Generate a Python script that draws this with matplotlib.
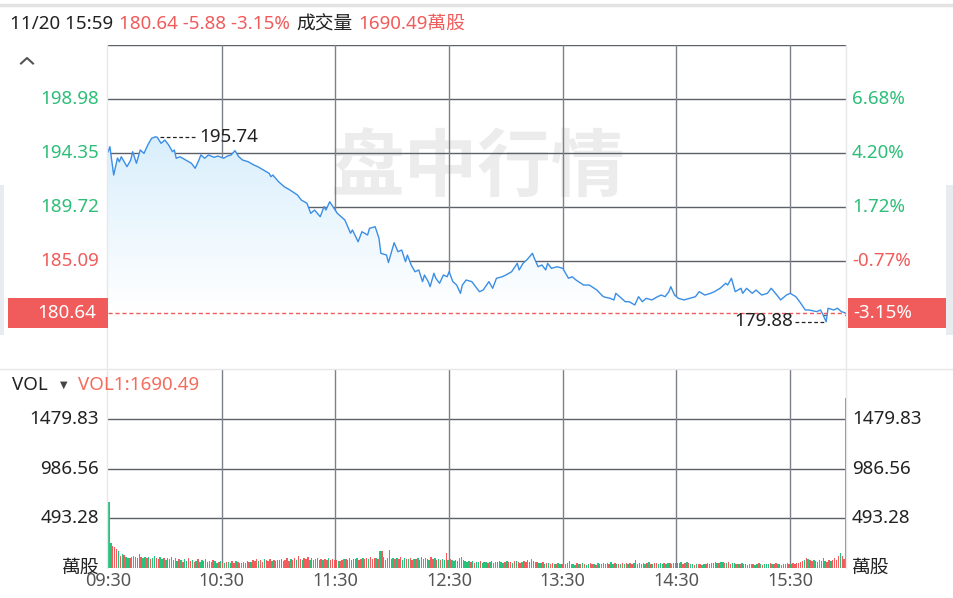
import matplotlib
matplotlib.use("Agg")
import matplotlib.pyplot as plt
import numpy as np
from matplotlib.patches import Polygon, Rectangle
from matplotlib.lines import Line2D
import matplotlib.transforms as mtransforms

# ---------------- data ----------------
header_time = "11/20 15:59"
prev_close = 186.52
last_price = 180.64
change = -5.88
change_pct = "-3.15%"
total_volume = "1690.49萬股"

price_ticks = [198.98, 194.35, 189.72, 185.09, 180.46]
price_tick_labels = ["198.98", "194.35", "189.72", "185.09", ""]
pct_tick_labels = ["6.68%", "4.20%", "1.72%", "-0.77%", ""]

vol_ticks = [493.28, 986.56, 1479.83]
vol_tick_labels = ["493.28", "986.56", "1479.83"]
vol_unit = "萬股"

time_ticks = [0, 60, 120, 180, 240, 300, 360]
time_labels = ["09:30", "10:30", "11:30", "12:30", "13:30", "14:30", "15:30"]

# minutes after 09:30 and price
minutes = [0, 1, 3, 5, 6, 7, 10, 12, 13, 15, 17, 19, 21, 23, 25, 26, 28, 30, 32, 34,
           35, 36, 38, 41, 44, 46, 48, 49, 51, 53, 56, 58, 61, 63, 65, 67, 69, 71, 74, 77,
           79, 82, 85, 86, 87, 90, 93, 96, 100, 102, 105, 107, 109, 112, 114, 115, 117, 121, 125, 128,
           129, 132, 134, 137, 138, 141, 143, 144, 147, 148, 151, 153, 155, 157, 158, 160, 162, 164, 166, 167,
           169, 170, 172, 173, 175, 177, 179, 180, 182, 184, 186, 187, 189, 192, 194, 196, 198, 201, 203, 205,
           208, 210, 213, 216, 217, 219, 221, 224, 225, 227, 229, 231, 232, 234, 237, 240, 243, 245, 247, 251,
           254, 258, 261, 262, 265, 267, 268, 270, 273, 275, 278, 280, 282, 284, 287, 290, 292, 294, 296, 297,
           299, 301, 304, 307, 310, 312, 315, 318, 320, 323, 326, 327, 329, 331, 334, 335, 337, 340, 342, 345,
           348, 350, 353, 355, 358, 360, 363, 365, 368, 370, 374, 376, 377, 379, 380, 383, 385, 387, 389]
prices = [194.44, 194.89, 192.46, 193.92, 193.60, 194.03, 193.18, 193.75, 194.46, 193.47,
          194.61, 194.32, 195.04, 195.61, 195.74, 195.70, 195.18, 195.46, 195.04, 194.46,
          194.61, 193.90, 194.03, 193.75, 193.47, 193.04, 193.75, 194.18, 193.90, 194.18,
          193.98, 194.09, 193.90, 194.09, 194.18, 194.55, 194.03, 193.75, 193.60, 193.32,
          193.18, 192.89, 192.61, 192.32, 192.46, 191.89, 191.46, 191.18, 190.75, 190.32,
          190.04, 189.18, 189.46, 188.89, 189.75, 189.46, 190.17, 189.18, 188.61, 187.47,
          187.75, 186.74, 187.60, 187.32, 187.89, 188.03, 187.04, 185.75, 185.60, 184.96,
          186.66, 185.89, 186.03, 185.03, 185.60, 184.75, 184.17, 184.32, 183.32, 183.89,
          183.32, 182.89, 184.04, 183.61, 183.18, 183.89, 183.74, 184.17, 183.32, 183.03,
          182.32, 183.03, 183.46, 183.32, 182.89, 182.46, 182.60, 183.32, 182.75, 183.61,
          183.74, 183.89, 184.17, 184.89, 184.32, 184.89, 185.18, 185.75, 185.32, 184.60,
          184.75, 184.32, 184.89, 184.46, 184.60, 184.46, 183.61, 183.74, 183.46, 183.03,
          183.03, 182.60, 182.09, 182.00, 181.89, 181.75, 182.32, 182.03, 181.60, 181.60,
          181.32, 182.03, 181.60, 181.89, 181.75, 182.03, 182.17, 182.03, 182.46, 182.89,
          182.17, 181.89, 181.75, 181.89, 182.03, 182.46, 182.17, 182.32, 182.46, 182.75,
          183.18, 183.03, 183.61, 182.46, 182.75, 182.32, 182.75, 182.32, 182.60, 182.17,
          182.32, 182.75, 182.17, 181.75, 182.17, 182.32, 182.03, 181.60, 180.89, 180.89,
          180.75, 180.89, 180.60, 179.88, 181.04, 180.89, 181.04, 180.75, 180.64]

# per-minute volume (萬股), one row per half hour
vol_0930 = [658, 240, 210, 200, 180, 165, 110, 130, 125, 105, 95, 90, 105, 110, 100, 95, 135, 100, 95, 105, 90, 100, 85, 95, 110, 90, 85, 100, 80, 95]
vol_1000 = [70, 95, 80, 100, 75, 90, 60, 85, 70, 55, 80, 65, 90, 60, 75, 50, 65, 80, 55, 70, 60, 85, 55, 65, 50, 70, 60, 45, 55, 60]
vol_1030 = [45, 40, 55, 50, 45, 60, 40, 65, 50, 45, 40, 55, 45, 60, 50, 55, 70, 65, 80, 60, 75, 55, 85, 70, 60, 80, 65, 75, 60, 70]
vol_1100 = [70, 85, 60, 75, 90, 65, 80, 70, 95, 75, 110, 80, 70, 95, 85, 100, 75, 90, 70, 85, 95, 75, 80, 70, 85, 75, 90, 70, 80, 75]
vol_1130 = [70, 65, 60, 75, 80, 85, 70, 90, 75, 80, 85, 90, 75, 80, 95, 85, 90, 80, 100, 85, 90, 95, 80, 160, 165, 100, 75, 95, 170, 80]
vol_1200 = [90, 80, 95, 85, 100, 75, 90, 85, 80, 95, 70, 85, 80, 90, 75, 100, 80, 95, 85, 75, 105, 80, 90, 70, 85, 75, 80, 70, 140, 75]
vol_1230 = [80, 70, 60, 75, 65, 90, 100, 70, 60, 55, 65, 50, 60, 45, 55, 50, 60, 45, 55, 50, 45, 55, 60, 45, 50, 55, 65, 50, 45, 55]
vol_1300 = [60, 50, 55, 45, 60, 65, 50, 45, 55, 60, 50, 70, 55, 80, 60, 50, 55, 45, 40, 50, 35, 40, 45, 35, 40, 30, 35, 40, 35, 30]
vol_1330 = [35, 30, 40, 60, 30, 35, 25, 40, 30, 35, 45, 30, 25, 35, 40, 30, 35, 25, 40, 30, 35, 45, 30, 40, 35, 50, 30, 40, 35, 30]
vol_1400 = [35, 40, 30, 45, 35, 40, 30, 45, 70, 35, 40, 30, 45, 35, 40, 50, 35, 30, 45, 40, 35, 45, 30, 40, 35, 45, 40, 35, 45, 40]
vol_1430 = [45, 40, 50, 35, 45, 55, 40, 30, 35, 25, 30, 35, 30, 25, 30, 35, 40, 30, 45, 40, 50, 45, 40, 55, 50, 45, 40, 50, 35, 45]
vol_1500 = [40, 35, 30, 35, 40, 30, 35, 25, 30, 35, 30, 25, 35, 40, 30, 25, 30, 35, 30, 40, 35, 30, 45, 35, 30, 25, 35, 30, 40, 35]
vol_1530 = [35, 40, 30, 45, 40, 50, 60, 75, 95, 80, 70, 65, 75, 60, 55, 70, 60, 90, 65, 55, 70, 60, 75, 95, 70, 110, 140, 115, 80, 1690.49]

# bar colour per minute: r = up (red), g = down (green)
dir_rows = ["ggrrrgrgrggrggrgrrggrgrggrrggr",
            "grgrrggrgrggrrgrgrggrgrrgrggrg",
            "rgrggrrgrrgrgrrgrrrgrrgrrrgrrg",
            "rrgrrrgrrgrrgrrrgrrgrrrgrrgrrr",
            "rgrrgrrgrrrgrrgrrgrrrgrgrrrgrr",
            "grgrrggrgrrgrgrrggrgrrgrgrggrg",
            "rgggrggrgggrgrggrgggrgrgggrggr",
            "grrgrgrrgrrgrrrgrggrgrgrrgrggr",
            "rgrrgggrgrgrggrrgrgrggrgrggrgr",
            "grgrgrrgrgrgggrgrgrrgggrggrgrg",
            "rrgrrgrggrgrrggrgrgrrgrggrgrrg",
            "grgrggrgrgrggrgrgggrgrrgrgrggr",
            "grrrrrrgrgrrgrrgrrgrrgrrrrgrrg"]

# ---------------- style ----------------
W, H = 954, 598
RED = '#f05b5b'
GREEN = '#2dbe78'
BAR_RED = '#f25c5c'
BAR_GREEN = '#27c27b'
BLUE = '#3a8ee6'
GRID = '#5c6068'
VGRID = '#7d8189'
DARK = '#222222'
FS = 13.5

plt.rcParams['font.family'] = ['Noto Sans', 'Noto Sans CJK TC', 'DejaVu Sans']

fig = plt.figure(figsize=(W / 100, H / 100), dpi=100)
fig.patch.set_facecolor('white')


def fx(px):
    return px / W


def fy(py):
    return 1 - py / H


# edge background strips
fig.add_artist(Rectangle((fx(0), fy(335)), fx(4), 150 / H, transform=fig.transFigure,
                         facecolor='#e8ecf1', edgecolor='none', zorder=0))
fig.add_artist(Rectangle((fx(946), fy(335)), fx(8), 150 / H, transform=fig.transFigure,
                         facecolor='#e8ecf1', edgecolor='none', zorder=0))
# top border line
fig.add_artist(Line2D([0, 1], [fy(4.5), fy(4.5)], transform=fig.transFigure,
                      color='#e3e3e3', lw=2.5))
# separator between panels
fig.add_artist(Line2D([0, 1], [fy(368.5), fy(368.5)], transform=fig.transFigure,
                      color='#e6e6e6', lw=1))
# plot border lines (light)
for xb in (107.5, 846.5):
    fig.add_artist(Line2D([fx(xb), fx(xb)], [fy(45), fy(567.5)], transform=fig.transFigure,
                          color='#e8e8e8', lw=1))

# caret
fig.add_artist(Line2D([fx(21), fx(27), fx(33)], [fy(63.5), fy(58), fy(63.5)],
                      transform=fig.transFigure, color='#555555', lw=1.5))

# ---------------- price panel ----------------
ax = fig.add_axes([fx(108), fy(369), 739 / W, 324 / H])
ax.set_facecolor('none')
step = price_ticks[0] - price_ticks[1]
ylo, yhi = price_ticks[-1] - step, price_ticks[0] + step
ax.set_xlim(0, 390)
ax.set_ylim(ylo, yhi)
ax.axis('off')

for t in price_ticks + [yhi]:
    ax.axhline(t, color=GRID, lw=1, zorder=1)
for m in time_ticks[1:]:
    ax.axvline(m, color=VGRID, lw=1, zorder=1)

# watermark
ax.text(fx(478), fy(170), '盘中行情', transform=fig.transFigure, ha='center', va='center',
        fontsize=53, color='#ececec', family=['Noto Sans CJK SC'], weight='bold', zorder=0.5)

# gradient fill under the line (fades to white around the lower part)
n = 256
g = np.clip(np.linspace(0, 1, n) / 0.75, 0, 1)[:, None]
top_c = np.array([0.85, 0.935, 0.99])
img = top_c[None, None, :] * (1 - g[:, :, None]) + 1.0 * g[:, :, None]
img = np.repeat(img, 2, axis=1)
im = ax.imshow(img, extent=[0, 390, ylo, max(prices)], aspect='auto', origin='upper', zorder=1.5,
               interpolation='bilinear')
ax.set_xlim(0, 390)
ax.set_ylim(ylo, yhi)
verts = list(zip(minutes, prices)) + [(minutes[-1], ylo), (minutes[0], ylo)]
poly = Polygon(verts, closed=True, transform=ax.transData, facecolor='none', edgecolor='none')
ax.add_patch(poly)
im.set_clip_path(poly)

ax.plot(minutes, prices, color=BLUE, lw=1.0, zorder=3, solid_joinstyle='round')
ax.axhline(last_price, color=RED, lw=1, ls=(0, (3, 2)), zorder=4)

# high / low annotations
ppm = 739 / 390.0
i_max = int(np.argmax(prices))
i_min = int(np.argmin(prices))
mx, px_ = minutes[i_max], prices[i_max]
mn, pn = minutes[i_min], prices[i_min]
ax.plot([mx + 5 / ppm, mx + 40 / ppm], [px_, px_], color=DARK, lw=0.9, ls=(0, (3, 2)), zorder=4)
ax.text(mx + 44 / ppm, px_, f"{px_:.2f}", ha='left', va='center', fontsize=FS, color=DARK, zorder=5)
ax.plot([mn - 31 / ppm, mn - 1 / ppm], [pn, pn], color=DARK, lw=0.9, ls=(0, (3, 2)), zorder=4)
ax.text(mn - 33 / ppm, pn + 0.1, f"{pn:.2f}", ha='right', va='center', fontsize=FS, color=DARK, zorder=5)

# axis labels
btr = mtransforms.blended_transform_factory(fig.transFigure, ax.transData)
for t, lab, pl in zip(price_ticks, price_tick_labels, pct_tick_labels):
    col = GREEN if t > prev_close else RED
    if lab:
        ax.text(fx(99), t, lab, transform=btr, ha='right', va='center', fontsize=FS, color=col)
    if pl:
        ax.text(fx(852), t, pl, transform=btr, ha='left', va='center', fontsize=FS, color=col)

# current-price boxes
yc_disp = ax.transData.transform((0, last_price))[1]
yc = fig.transFigure.inverted().transform((0, yc_disp))[1]
bh = 30 / H
fig.add_artist(Rectangle((fx(8), yc - bh / 2), 100 / W, bh, transform=fig.transFigure,
                         facecolor=RED, edgecolor='none', zorder=5))
fig.add_artist(Rectangle((fx(848), yc - bh / 2), 98 / W, bh, transform=fig.transFigure,
                         facecolor=RED, edgecolor='none', zorder=5))
fig.text(fx(96), yc, f"{last_price:.2f}", ha='right', va='center', fontsize=FS, color='white', zorder=6)
fig.text(fx(853), yc, change_pct, ha='left', va='center', fontsize=FS, color='white', zorder=6)

# ---------------- volume panel ----------------
axv = fig.add_axes([fx(108), fy(567.5), 739 / W, 197.5 / H])
axv.set_facecolor('none')
axv.set_xlim(0, 390)
axv.set_ylim(0, vol_ticks[0] * 4)
axv.axis('off')
for t in vol_ticks:
    axv.axhline(t, color=GRID, lw=1, zorder=1)
for m in time_ticks[1:]:
    axv.axvline(m, color=VGRID, lw=1, zorder=1)

vols = (vol_0930 + vol_1000 + vol_1030 + vol_1100 + vol_1130 + vol_1200 + vol_1230 +
        vol_1300 + vol_1330 + vol_1400 + vol_1430 + vol_1500 + vol_1530)
dirs = "".join(dir_rows)
cols = [BAR_RED if d == 'r' else BAR_GREEN for d in dirs]
axv.bar(np.arange(len(vols)) + 0.5, vols, width=0.75, color=cols, linewidth=0, zorder=2)

btv = mtransforms.blended_transform_factory(fig.transFigure, axv.transData)
for t, lab in zip(vol_ticks, vol_tick_labels):
    axv.text(fx(99), t, lab, transform=btv, ha='right', va='center', fontsize=FS, color=DARK)
    axv.text(fx(852), t, lab, transform=btv, ha='left', va='center', fontsize=FS, color=DARK)
axv.text(fx(99), 0, vol_unit, transform=btv, ha='right', va='center', fontsize=FS, color=DARK)
axv.text(fx(852), 0, vol_unit, transform=btv, ha='left', va='center', fontsize=FS, color=DARK)

# time labels
btx = mtransforms.blended_transform_factory(axv.transData, fig.transFigure)
for m, lab in zip(time_ticks, time_labels):
    axv.text(m, fy(581), lab, transform=btx, ha='center', va='center', fontsize=13, color='#555555')

# VOL header
fig.text(fx(12), fy(385), "VOL", ha='left', va='center', fontsize=FS, color=DARK)
fig.text(fx(63.5), fy(384.5), "▼", ha='center', va='center', fontsize=7, color='#444444',
         family=['DejaVu Sans'])
fig.text(fx(78), fy(385), f"VOL1:{vols[-1]:.2f}", ha='left', va='center', fontsize=FS, color='#f46c5c')

# ---------------- header ----------------
renderer = fig.canvas.get_renderer()
pieces = [(header_time, DARK),
          (f"{last_price:.2f} {change:.2f} {change_pct}", RED),
          ("成交量", DARK),
          (total_volume, RED)]
xpos = 10
for txt, c in pieces:
    t = fig.text(fx(xpos), fy(24), txt, ha='left', va='center', fontsize=FS, color=c)
    bb = t.get_window_extent(renderer=renderer)
    xpos = xpos + bb.width + 6

fig.savefig("out.png", dpi=100, facecolor='white')
